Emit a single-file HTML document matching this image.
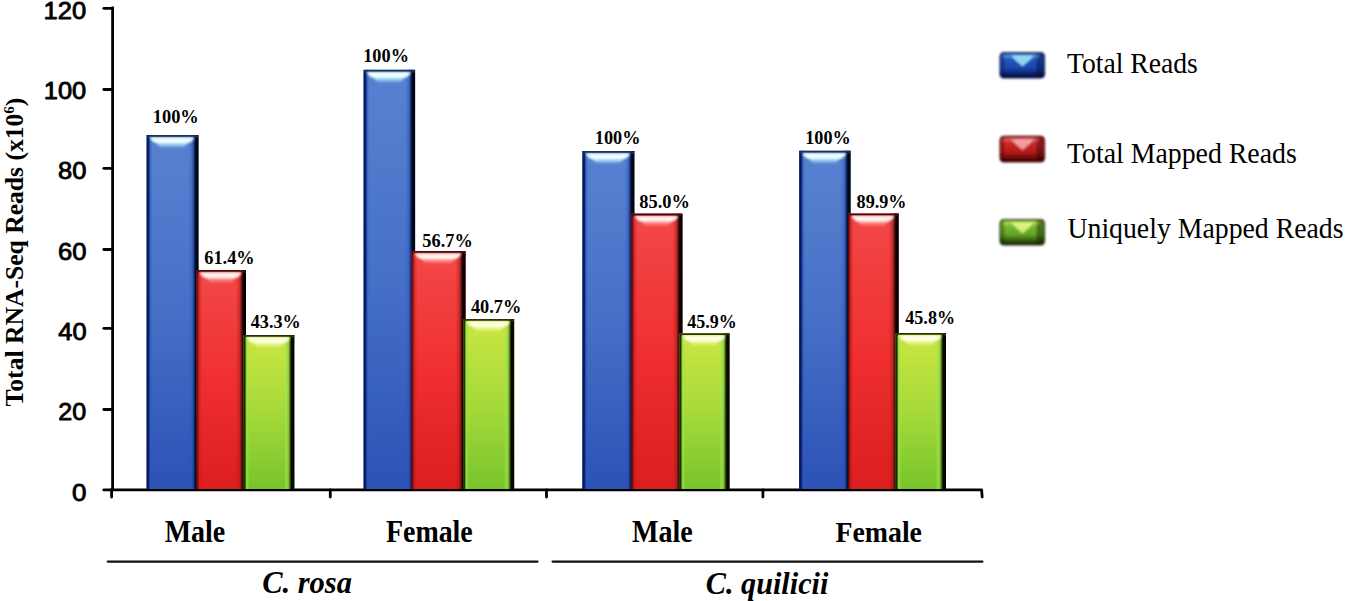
<!DOCTYPE html>
<html><head><meta charset="utf-8"><style>html,body{margin:0;padding:0;background:#fff;}svg{display:block;}</style></head>
<body><svg width="1345" height="601" viewBox="0 0 1345 601">
<defs><filter id="blur1" x="-20%" y="-20%" width="140%" height="140%"><feGaussianBlur stdDeviation="0.7"/></filter><filter id="blurH" x="-20%" y="-50%" width="140%" height="200%"><feGaussianBlur stdDeviation="1.0"/></filter><filter id="blur2" x="-20%" y="-20%" width="140%" height="140%"><feGaussianBlur stdDeviation="0.9"/></filter><linearGradient id="Lb" x1="0" y1="0" x2="1" y2="0"><stop offset="0" stop-color="#06154a" stop-opacity="1"/><stop offset="0.36" stop-color="#0a1f66" stop-opacity="1"/><stop offset="0.5" stop-color="#1e40a8" stop-opacity="0.8"/><stop offset="0.8" stop-color="#3060c0" stop-opacity="0.3"/><stop offset="1" stop-color="#3060c0" stop-opacity="0"/></linearGradient><linearGradient id="Rb" x1="0" y1="0" x2="1" y2="0"><stop offset="0" stop-color="#2a50c0" stop-opacity="0"/><stop offset="0.35" stop-color="#2a50c0" stop-opacity="0.45"/><stop offset="0.55" stop-color="#102a70" stop-opacity="0.85"/><stop offset="0.72" stop-color="#000818" stop-opacity="1"/><stop offset="1" stop-color="#000510" stop-opacity="1"/></linearGradient><linearGradient id="Lr" x1="0" y1="0" x2="1" y2="0"><stop offset="0" stop-color="#3a0505" stop-opacity="1"/><stop offset="0.25" stop-color="#801010" stop-opacity="0.9"/><stop offset="0.45" stop-color="#c01818" stop-opacity="0.6"/><stop offset="1" stop-color="#d02020" stop-opacity="0"/></linearGradient><linearGradient id="Rr" x1="0" y1="0" x2="1" y2="0"><stop offset="0" stop-color="#b01818" stop-opacity="0"/><stop offset="0.35" stop-color="#b01818" stop-opacity="0.5"/><stop offset="0.55" stop-color="#501010" stop-opacity="0.85"/><stop offset="0.72" stop-color="#0a0000" stop-opacity="1"/><stop offset="1" stop-color="#050000" stop-opacity="1"/></linearGradient><linearGradient id="Lg" x1="0" y1="0" x2="1" y2="0"><stop offset="0" stop-color="#101a00" stop-opacity="1"/><stop offset="0.28" stop-color="#203000" stop-opacity="0.95"/><stop offset="0.4" stop-color="#80d030" stop-opacity="0.8"/><stop offset="0.6" stop-color="#98e848" stop-opacity="0.6"/><stop offset="1" stop-color="#98e848" stop-opacity="0"/></linearGradient><linearGradient id="Rg" x1="0" y1="0" x2="1" y2="0"><stop offset="0" stop-color="#9ce850" stop-opacity="0"/><stop offset="0.2" stop-color="#9ce850" stop-opacity="0.7"/><stop offset="0.4" stop-color="#80c040" stop-opacity="0.6"/><stop offset="0.58" stop-color="#304000" stop-opacity="0.9"/><stop offset="0.72" stop-color="#050800" stop-opacity="1"/><stop offset="1" stop-color="#050800" stop-opacity="1"/></linearGradient><linearGradient id="gb" x1="0" y1="0" x2="0" y2="1"><stop offset="0" stop-color="#5882d0"/><stop offset="0.5" stop-color="#4670c6"/><stop offset="1" stop-color="#2c52b6"/></linearGradient><linearGradient id="hb" x1="0" y1="0" x2="0" y2="1"><stop offset="0" stop-color="#a4e2fa" stop-opacity="1"/><stop offset="0.5" stop-color="#a4e2fa" stop-opacity="0.85"/><stop offset="1" stop-color="#a4e2fa" stop-opacity="0.2"/></linearGradient><linearGradient id="gr" x1="0" y1="0" x2="0" y2="1"><stop offset="0" stop-color="#f24848"/><stop offset="0.5" stop-color="#f03030"/><stop offset="1" stop-color="#dc1e1e"/></linearGradient><linearGradient id="hr" x1="0" y1="0" x2="0" y2="1"><stop offset="0" stop-color="#ff9a9a" stop-opacity="1"/><stop offset="0.5" stop-color="#ff9a9a" stop-opacity="0.85"/><stop offset="1" stop-color="#ff9a9a" stop-opacity="0.2"/></linearGradient><linearGradient id="gg" x1="0" y1="0" x2="0" y2="1"><stop offset="0" stop-color="#cce642"/><stop offset="0.5" stop-color="#a6da3a"/><stop offset="1" stop-color="#78c42c"/></linearGradient><linearGradient id="hg" x1="0" y1="0" x2="0" y2="1"><stop offset="0" stop-color="#eef890" stop-opacity="1"/><stop offset="0.5" stop-color="#eef890" stop-opacity="0.85"/><stop offset="1" stop-color="#eef890" stop-opacity="0.2"/></linearGradient><linearGradient id="lb" x1="0" y1="0" x2="0" y2="1"><stop offset="0" stop-color="#2d60c4"/><stop offset="0.6" stop-color="#1a48b0"/><stop offset="1" stop-color="#000a3a"/></linearGradient><linearGradient id="lr" x1="0" y1="0" x2="0" y2="1"><stop offset="0" stop-color="#d83434"/><stop offset="0.6" stop-color="#b81c1c"/><stop offset="1" stop-color="#3a0000"/></linearGradient><linearGradient id="lg" x1="0" y1="0" x2="0" y2="1"><stop offset="0" stop-color="#8cc83a"/><stop offset="0.6" stop-color="#62a424"/><stop offset="1" stop-color="#122000"/></linearGradient></defs>
<rect width="1345" height="601" fill="#fff"/>
<g stroke="#000" stroke-width="2.8" fill="none" stroke-linecap="round" stroke-linejoin="round">
<line x1="112.6" y1="7.6" x2="112.6" y2="490"/>
<line x1="103.8" y1="8.30" x2="112.6" y2="8.30"/>
<line x1="103.8" y1="89.50" x2="112.6" y2="89.50"/>
<line x1="103.8" y1="168.30" x2="112.6" y2="168.30"/>
<line x1="103.8" y1="249.50" x2="112.6" y2="249.50"/>
<line x1="103.8" y1="328.30" x2="112.6" y2="328.30"/>
<line x1="103.8" y1="409.50" x2="112.6" y2="409.50"/>
<line x1="103.8" y1="489.90" x2="112.6" y2="489.90"/>
<path d="M111.6,489.9 L981.6,489.9 L982.2,497"/>
<line x1="111.6" y1="490" x2="111.6" y2="497"/>
<line x1="330.3" y1="490" x2="330.3" y2="497"/>
<line x1="546.5" y1="490" x2="546.5" y2="497"/>
<line x1="762.9" y1="490" x2="762.9" y2="497"/>
</g>
<g stroke="#111" stroke-width="2.3" stroke-linecap="round"><line x1="107.8" y1="561.6" x2="537.5" y2="561.6"/><line x1="552.6" y1="561.6" x2="982.4" y2="561.6"/></g>
<rect x="146.60" y="135.00" width="51.90" height="354.00" fill="url(#gb)"/>
<rect x="146.60" y="135.00" width="6" height="354.00" fill="url(#Lb)"/>
<rect x="188.50" y="135.00" width="10" height="354.00" fill="url(#Rb)"/>
<g filter="url(#blurH)"><path d="M155.10,141.50 L189.00,141.50 Q186.50,145.00 183.50,147.50 L160.60,147.50 Q157.60,145.00 155.10,141.50 Z" fill="url(#hb)"/><path d="M150.10,137.20 L194.00,137.20 Q193.50,141.00 188.50,143.00 L155.60,143.00 Q150.60,141.00 150.10,137.20 Z" fill="#f0ffff"/></g>
<path d="M146.90,138.00 Q146.90,135.00 149.60,135.00 L195.50,135.00 Q198.50,135.00 198.50,138.00 L197.00,138.00 L196.00,136.80 L149.10,136.80 L148.40,138.00 Z" fill="#183456"/>
<rect x="196.40" y="270.00" width="49.60" height="219.00" fill="url(#gr)"/>
<rect x="196.40" y="270.00" width="6" height="219.00" fill="url(#Lr)"/>
<rect x="236.00" y="270.00" width="10" height="219.00" fill="url(#Rr)"/>
<g filter="url(#blurH)"><path d="M204.90,276.50 L236.50,276.50 Q234.00,280.00 231.00,282.50 L210.40,282.50 Q207.40,280.00 204.90,276.50 Z" fill="url(#hr)"/><path d="M199.90,272.20 L241.50,272.20 Q241.00,276.00 236.00,278.00 L205.40,278.00 Q200.40,276.00 199.90,272.20 Z" fill="#fff2ee"/></g>
<path d="M196.70,273.00 Q196.70,270.00 199.40,270.00 L243.00,270.00 Q246.00,270.00 246.00,273.00 L244.50,273.00 L243.50,271.80 L198.90,271.80 L198.20,273.00 Z" fill="#4a0c0c"/>
<rect x="243.60" y="335.00" width="50.80" height="154.00" fill="url(#gg)"/>
<rect x="243.60" y="335.00" width="6" height="154.00" fill="url(#Lg)"/>
<rect x="284.40" y="335.00" width="10" height="154.00" fill="url(#Rg)"/>
<g filter="url(#blurH)"><path d="M252.10,341.50 L284.90,341.50 Q282.40,345.00 279.40,347.50 L257.60,347.50 Q254.60,345.00 252.10,341.50 Z" fill="url(#hg)"/><path d="M247.10,337.20 L289.90,337.20 Q289.40,341.00 284.40,343.00 L252.60,343.00 Q247.60,341.00 247.10,337.20 Z" fill="#fdffe6"/></g>
<path d="M243.90,338.00 Q243.90,335.00 246.60,335.00 L291.40,335.00 Q294.40,335.00 294.40,338.00 L292.90,338.00 L291.90,336.80 L246.10,336.80 L245.40,338.00 Z" fill="#2a3008"/>
<rect x="363.60" y="69.80" width="51.50" height="419.20" fill="url(#gb)"/>
<rect x="363.60" y="69.80" width="6" height="419.20" fill="url(#Lb)"/>
<rect x="405.10" y="69.80" width="10" height="419.20" fill="url(#Rb)"/>
<g filter="url(#blurH)"><path d="M372.10,76.30 L405.60,76.30 Q403.10,79.80 400.10,82.30 L377.60,82.30 Q374.60,79.80 372.10,76.30 Z" fill="url(#hb)"/><path d="M367.10,72.00 L410.60,72.00 Q410.10,75.80 405.10,77.80 L372.60,77.80 Q367.60,75.80 367.10,72.00 Z" fill="#f0ffff"/></g>
<path d="M363.90,72.80 Q363.90,69.80 366.60,69.80 L412.10,69.80 Q415.10,69.80 415.10,72.80 L413.60,72.80 L412.60,71.60 L366.10,71.60 L365.40,72.80 Z" fill="#183456"/>
<rect x="411.60" y="251.00" width="54.00" height="238.00" fill="url(#gr)"/>
<rect x="411.60" y="251.00" width="6" height="238.00" fill="url(#Lr)"/>
<rect x="455.60" y="251.00" width="10" height="238.00" fill="url(#Rr)"/>
<g filter="url(#blurH)"><path d="M420.10,257.50 L456.10,257.50 Q453.60,261.00 450.60,263.50 L425.60,263.50 Q422.60,261.00 420.10,257.50 Z" fill="url(#hr)"/><path d="M415.10,253.20 L461.10,253.20 Q460.60,257.00 455.60,259.00 L420.60,259.00 Q415.60,257.00 415.10,253.20 Z" fill="#fff2ee"/></g>
<path d="M411.90,254.00 Q411.90,251.00 414.60,251.00 L462.60,251.00 Q465.60,251.00 465.60,254.00 L464.10,254.00 L463.10,252.80 L414.10,252.80 L413.40,254.00 Z" fill="#4a0c0c"/>
<rect x="463.30" y="319.00" width="50.90" height="170.00" fill="url(#gg)"/>
<rect x="463.30" y="319.00" width="6" height="170.00" fill="url(#Lg)"/>
<rect x="504.20" y="319.00" width="10" height="170.00" fill="url(#Rg)"/>
<g filter="url(#blurH)"><path d="M471.80,325.50 L504.70,325.50 Q502.20,329.00 499.20,331.50 L477.30,331.50 Q474.30,329.00 471.80,325.50 Z" fill="url(#hg)"/><path d="M466.80,321.20 L509.70,321.20 Q509.20,325.00 504.20,327.00 L472.30,327.00 Q467.30,325.00 466.80,321.20 Z" fill="#fdffe6"/></g>
<path d="M463.60,322.00 Q463.60,319.00 466.30,319.00 L511.20,319.00 Q514.20,319.00 514.20,322.00 L512.70,322.00 L511.70,320.80 L465.80,320.80 L465.10,322.00 Z" fill="#2a3008"/>
<rect x="582.40" y="151.00" width="52.00" height="338.00" fill="url(#gb)"/>
<rect x="582.40" y="151.00" width="6" height="338.00" fill="url(#Lb)"/>
<rect x="624.40" y="151.00" width="10" height="338.00" fill="url(#Rb)"/>
<g filter="url(#blurH)"><path d="M590.90,157.50 L624.90,157.50 Q622.40,161.00 619.40,163.50 L596.40,163.50 Q593.40,161.00 590.90,157.50 Z" fill="url(#hb)"/><path d="M585.90,153.20 L629.90,153.20 Q629.40,157.00 624.40,159.00 L591.40,159.00 Q586.40,157.00 585.90,153.20 Z" fill="#f0ffff"/></g>
<path d="M582.70,154.00 Q582.70,151.00 585.40,151.00 L631.40,151.00 Q634.40,151.00 634.40,154.00 L632.90,154.00 L631.90,152.80 L584.90,152.80 L584.20,154.00 Z" fill="#183456"/>
<rect x="631.50" y="213.60" width="51.00" height="275.40" fill="url(#gr)"/>
<rect x="631.50" y="213.60" width="6" height="275.40" fill="url(#Lr)"/>
<rect x="672.50" y="213.60" width="10" height="275.40" fill="url(#Rr)"/>
<g filter="url(#blurH)"><path d="M640.00,220.10 L673.00,220.10 Q670.50,223.60 667.50,226.10 L645.50,226.10 Q642.50,223.60 640.00,220.10 Z" fill="url(#hr)"/><path d="M635.00,215.80 L678.00,215.80 Q677.50,219.60 672.50,221.60 L640.50,221.60 Q635.50,219.60 635.00,215.80 Z" fill="#fff2ee"/></g>
<path d="M631.80,216.60 Q631.80,213.60 634.50,213.60 L679.50,213.60 Q682.50,213.60 682.50,216.60 L681.00,216.60 L680.00,215.40 L634.00,215.40 L633.30,216.60 Z" fill="#4a0c0c"/>
<rect x="679.50" y="333.20" width="50.10" height="155.80" fill="url(#gg)"/>
<rect x="679.50" y="333.20" width="6" height="155.80" fill="url(#Lg)"/>
<rect x="719.60" y="333.20" width="10" height="155.80" fill="url(#Rg)"/>
<g filter="url(#blurH)"><path d="M688.00,339.70 L720.10,339.70 Q717.60,343.20 714.60,345.70 L693.50,345.70 Q690.50,343.20 688.00,339.70 Z" fill="url(#hg)"/><path d="M683.00,335.40 L725.10,335.40 Q724.60,339.20 719.60,341.20 L688.50,341.20 Q683.50,339.20 683.00,335.40 Z" fill="#fdffe6"/></g>
<path d="M679.80,336.20 Q679.80,333.20 682.50,333.20 L726.60,333.20 Q729.60,333.20 729.60,336.20 L728.10,336.20 L727.10,335.00 L682.00,335.00 L681.30,336.20 Z" fill="#2a3008"/>
<rect x="799.20" y="150.70" width="51.40" height="338.30" fill="url(#gb)"/>
<rect x="799.20" y="150.70" width="6" height="338.30" fill="url(#Lb)"/>
<rect x="840.60" y="150.70" width="10" height="338.30" fill="url(#Rb)"/>
<g filter="url(#blurH)"><path d="M807.70,157.20 L841.10,157.20 Q838.60,160.70 835.60,163.20 L813.20,163.20 Q810.20,160.70 807.70,157.20 Z" fill="url(#hb)"/><path d="M802.70,152.90 L846.10,152.90 Q845.60,156.70 840.60,158.70 L808.20,158.70 Q803.20,156.70 802.70,152.90 Z" fill="#f0ffff"/></g>
<path d="M799.50,153.70 Q799.50,150.70 802.20,150.70 L847.60,150.70 Q850.60,150.70 850.60,153.70 L849.10,153.70 L848.10,152.50 L801.70,152.50 L801.00,153.70 Z" fill="#183456"/>
<rect x="848.00" y="213.40" width="50.70" height="275.60" fill="url(#gr)"/>
<rect x="848.00" y="213.40" width="6" height="275.60" fill="url(#Lr)"/>
<rect x="888.70" y="213.40" width="10" height="275.60" fill="url(#Rr)"/>
<g filter="url(#blurH)"><path d="M856.50,219.90 L889.20,219.90 Q886.70,223.40 883.70,225.90 L862.00,225.90 Q859.00,223.40 856.50,219.90 Z" fill="url(#hr)"/><path d="M851.50,215.60 L894.20,215.60 Q893.70,219.40 888.70,221.40 L857.00,221.40 Q852.00,219.40 851.50,215.60 Z" fill="#fff2ee"/></g>
<path d="M848.30,216.40 Q848.30,213.40 851.00,213.40 L895.70,213.40 Q898.70,213.40 898.70,216.40 L897.20,216.40 L896.20,215.20 L850.50,215.20 L849.80,216.40 Z" fill="#4a0c0c"/>
<rect x="895.60" y="333.00" width="50.40" height="156.00" fill="url(#gg)"/>
<rect x="895.60" y="333.00" width="6" height="156.00" fill="url(#Lg)"/>
<rect x="936.00" y="333.00" width="10" height="156.00" fill="url(#Rg)"/>
<g filter="url(#blurH)"><path d="M904.10,339.50 L936.50,339.50 Q934.00,343.00 931.00,345.50 L909.60,345.50 Q906.60,343.00 904.10,339.50 Z" fill="url(#hg)"/><path d="M899.10,335.20 L941.50,335.20 Q941.00,339.00 936.00,341.00 L904.60,341.00 Q899.60,339.00 899.10,335.20 Z" fill="#fdffe6"/></g>
<path d="M895.90,336.00 Q895.90,333.00 898.60,333.00 L943.00,333.00 Q946.00,333.00 946.00,336.00 L944.50,336.00 L943.50,334.80 L898.10,334.80 L897.40,336.00 Z" fill="#2a3008"/>
<text transform="translate(43.58,19.34) scale(1.0688,1)" font-family="Liberation Sans" font-weight="normal" font-style="normal" font-size="23.87" fill="#000" stroke="#000" stroke-width="0.85" stroke-linejoin="round">120</text>
<text transform="translate(43.79,98.94) scale(1.0761,1)" font-family="Liberation Sans" font-weight="normal" font-style="normal" font-size="23.59" fill="#000" stroke="#000" stroke-width="0.85" stroke-linejoin="round">100</text>
<text transform="translate(58.01,179.34) scale(1.0675,1)" font-family="Liberation Sans" font-weight="normal" font-style="normal" font-size="23.87" fill="#000" stroke="#000" stroke-width="0.85" stroke-linejoin="round">80</text>
<text transform="translate(57.94,259.93) scale(1.0552,1)" font-family="Liberation Sans" font-weight="normal" font-style="normal" font-size="24.30" fill="#000" stroke="#000" stroke-width="0.85" stroke-linejoin="round">60</text>
<text transform="translate(58.32,339.84) scale(1.0632,1)" font-family="Liberation Sans" font-weight="normal" font-style="normal" font-size="23.87" fill="#000" stroke="#000" stroke-width="0.85" stroke-linejoin="round">40</text>
<text transform="translate(58.37,419.83) scale(1.0251,1)" font-family="Liberation Sans" font-weight="normal" font-style="normal" font-size="24.44" fill="#000" stroke="#000" stroke-width="0.85" stroke-linejoin="round">20</text>
<text transform="translate(71.89,500.83) scale(1.0614,1)" font-family="Liberation Sans" font-weight="normal" font-style="normal" font-size="24.44" fill="#000" stroke="#000" stroke-width="0.85" stroke-linejoin="round">0</text>
<text transform="translate(152.73,123.33) scale(0.9937,1)" font-family="Liberation Serif" font-weight="bold" font-style="normal" font-size="18.53" fill="#000">100%</text>
<text transform="translate(204.25,263.83) scale(0.9970,1)" font-family="Liberation Serif" font-weight="bold" font-style="normal" font-size="18.38" fill="#000">61.4%</text>
<text transform="translate(250.72,328.33) scale(0.9749,1)" font-family="Liberation Serif" font-weight="bold" font-style="normal" font-size="18.66" fill="#000">43.3%</text>
<text transform="translate(363.24,62.43) scale(0.9867,1)" font-family="Liberation Serif" font-weight="bold" font-style="normal" font-size="18.53" fill="#000">100%</text>
<text transform="translate(422.37,246.82) scale(0.9665,1)" font-family="Liberation Serif" font-weight="bold" font-style="normal" font-size="18.96" fill="#000">56.7%</text>
<text transform="translate(470.92,313.23) scale(0.9830,1)" font-family="Liberation Serif" font-weight="bold" font-style="normal" font-size="18.66" fill="#000">40.7%</text>
<text transform="translate(594.74,143.73) scale(0.9946,1)" font-family="Liberation Serif" font-weight="bold" font-style="normal" font-size="18.38" fill="#000">100%</text>
<text transform="translate(639.35,207.73) scale(1.0024,1)" font-family="Liberation Serif" font-weight="bold" font-style="normal" font-size="18.36" fill="#000">85.0%</text>
<text transform="translate(687.32,328.33) scale(0.9648,1)" font-family="Liberation Serif" font-weight="bold" font-style="normal" font-size="18.66" fill="#000">45.9%</text>
<text transform="translate(805.24,143.83) scale(0.9821,1)" font-family="Liberation Serif" font-weight="bold" font-style="normal" font-size="18.53" fill="#000">100%</text>
<text transform="translate(856.55,207.82) scale(0.9664,1)" font-family="Liberation Serif" font-weight="bold" font-style="normal" font-size="18.81" fill="#000">89.9%</text>
<text transform="translate(905.22,323.81) scale(0.9355,1)" font-family="Liberation Serif" font-weight="bold" font-style="normal" font-size="19.40" fill="#000">45.8%</text>
<text transform="translate(164.64,542.39) scale(0.9122,1)" font-family="Liberation Serif" font-weight="bold" font-style="normal" font-size="30.71" fill="#000">Male</text>
<text transform="translate(385.94,542.29) scale(0.9140,1)" font-family="Liberation Serif" font-weight="bold" font-style="normal" font-size="30.57" fill="#000">Female</text>
<text transform="translate(631.94,542.39) scale(0.9153,1)" font-family="Liberation Serif" font-weight="bold" font-style="normal" font-size="30.71" fill="#000">Male</text>
<text transform="translate(835.44,542.30) scale(0.9193,1)" font-family="Liberation Serif" font-weight="bold" font-style="normal" font-size="30.29" fill="#000">Female</text>
<text transform="translate(262.19,592.79) scale(0.9863,1)" font-family="Liberation Serif" font-weight="bold" font-style="italic" font-size="30.91" fill="#000">C. rosa</text>
<text transform="translate(705.79,594.20) scale(0.9745,1)" font-family="Liberation Serif" font-weight="bold" font-style="italic" font-size="31.01" fill="#000">C. quilicii</text>
<text transform="translate(1067.05,72.90) scale(0.9350,1)" font-family="Liberation Serif" font-weight="normal" font-style="normal" font-size="29.57" fill="#000">Total Reads</text>
<text transform="translate(1066.94,163.00) scale(0.9185,1)" font-family="Liberation Serif" font-weight="normal" font-style="normal" font-size="30.29" fill="#000">Total Mapped Reads</text>
<text transform="translate(1067.44,237.80) scale(0.9352,1)" font-family="Liberation Serif" font-weight="normal" font-style="normal" font-size="29.71" fill="#000">Uniquely Mapped Reads</text>
<text transform="translate(23,406.4) rotate(-90)" font-family="Liberation Serif" font-weight="bold" font-size="25.6" fill="#000">Total RNA-Seq Reads (x10<tspan font-size="15" dy="-9">6</tspan><tspan dy="9">)</tspan></text>
<g filter="url(#blur2)"><rect x="1000.3" y="52.9" width="44" height="24.8" rx="3.5" fill="url(#lb)" stroke="#000a3a" stroke-width="1.6" stroke-opacity="0.85"/>
<rect x="1036.5" y="53.8" width="6.5" height="23.0" fill="#000a3a" opacity="0.45"/>
<rect x="1001.5" y="53.8" width="3" height="23.0" fill="#000a3a" opacity="0.3"/>
<rect x="1003" y="54.5" width="36" height="3.5" fill="#a8f6ff" opacity="0.25"/>
<path d="M1011,55.5 L1034,55.5 L1029,60.8 L1022.5,66.3 L1016,60.8 Z" fill="#a8f6ff" opacity="0.8"/></g>
<g filter="url(#blur2)"><rect x="1000.3" y="136.6" width="44" height="25.1" rx="3.5" fill="url(#lr)" stroke="#3a0000" stroke-width="1.6" stroke-opacity="0.85"/>
<rect x="1036.5" y="137.5" width="6.5" height="23.3" fill="#3a0000" opacity="0.45"/>
<rect x="1001.5" y="137.5" width="3" height="23.3" fill="#3a0000" opacity="0.3"/>
<rect x="1003" y="138.2" width="36" height="3.5" fill="#ffb8b8" opacity="0.25"/>
<path d="M1011,139.2 L1034,139.2 L1029,144.5 L1022.5,150.0 L1016,144.5 Z" fill="#ffb8b8" opacity="0.8"/></g>
<g filter="url(#blur2)"><rect x="1000.3" y="219.9" width="44" height="24.8" rx="3.5" fill="url(#lg)" stroke="#122000" stroke-width="1.6" stroke-opacity="0.85"/>
<rect x="1036.5" y="220.8" width="6.5" height="23.0" fill="#122000" opacity="0.45"/>
<rect x="1001.5" y="220.8" width="3" height="23.0" fill="#122000" opacity="0.3"/>
<rect x="1003" y="221.5" width="36" height="3.5" fill="#f0ff90" opacity="0.25"/>
<path d="M1011,222.5 L1034,222.5 L1029,227.8 L1022.5,233.3 L1016,227.8 Z" fill="#f0ff90" opacity="0.8"/></g>
</svg></body></html>
